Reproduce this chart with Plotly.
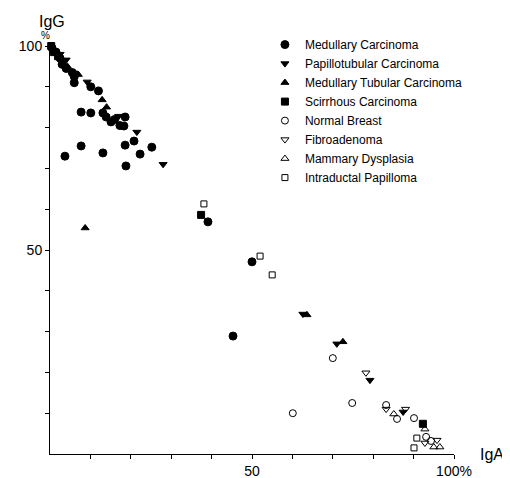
import plotly.graph_objects as go

# ---- data (IgA %, IgG %) ----
series_names = [
    "Medullary Carcinoma",
    "Papillotubular Carcinoma",
    "Medullary Tubular Carcinoma",
    "Scirrhous Carcinoma",
    "Normal Breast",
    "Fibroadenoma",
    "Mammary Dysplasia",
    "Intraductal Papilloma",
]

medullary_x = [0.5, 1.5, 2.5, 3.0, 4.0, 5.5, 6.0, 6.0, 10.1, 12.0, 13.1, 13.9, 15.1, 16.0, 17.3, 18.6, 18.3,
               7.7, 10.1, 3.7, 7.7, 13.1, 18.6, 20.8, 22.3, 25.2, 18.8, 39.1, 50.0, 45.3]
medullary_y = [99.5, 98.5, 97.0, 95.5, 94.5, 93.5, 92.5, 91.0, 90.0, 89.0, 83.6, 82.6, 81.4, 82.0, 80.5, 82.6, 80.4,
               83.8, 83.6, 73.0, 75.5, 73.8, 75.7, 76.7, 73.5, 75.2, 70.6, 56.9, 47.1, 28.9]

papillotubular_x = [2.5, 4.0, 9.2, 17.0, 21.5, 28.0, 62.6, 71.0, 79.2, 87.4]
papillotubular_y = [98.0, 96.6, 91.2, 82.8, 78.9, 71.0, 34.3, 27.0, 18.1, 10.3]

med_tubular_x = [1.0, 4.3, 7.0, 12.9, 14.0, 8.7, 63.6, 72.5]
med_tubular_y = [99.0, 95.0, 93.0, 86.8, 85.0, 55.4, 34.1, 27.5]

scirrhous_x = [0.3, 1.0, 2.0, 6.0, 37.4, 92.3]
scirrhous_y = [100.0, 98.5, 97.5, 93.0, 58.6, 7.4]

normal_x = [60.1, 70.0, 74.8, 83.2, 85.9, 90.1, 93.1, 94.3]
normal_y = [10.0, 23.5, 12.5, 12.0, 8.6, 8.8, 4.2, 3.2]

fibro_x = [78.2, 83.2, 88.0, 92.8, 95.8]
fibro_y = [19.9, 11.0, 11.0, 2.7, 3.4]

dysplasia_x = [85.1, 92.8, 95.0, 96.5]
dysplasia_y = [9.8, 6.1, 1.7, 1.7]

papilloma_x = [38.1, 52.0, 55.0, 90.8, 90.1]
papilloma_y = [61.3, 48.5, 43.9, 3.9, 1.5]

tick_vals = [10, 20, 30, 40, 50, 60, 70, 80, 90, 100]
x_tick_text = ["", "", "", "", "50", "", "", "", "", "100%"]
y_tick_text = ["", "", "", "", "50", "", "", "", "", "100"]

FONT = "Liberation Sans, Arial, sans-serif"

series = [
    (series_names[0], medullary_x, medullary_y, "circle", 8),
    (series_names[1], papillotubular_x, papillotubular_y, "triangle-down", 7),
    (series_names[2], med_tubular_x, med_tubular_y, "triangle-up", 7),
    (series_names[3], scirrhous_x, scirrhous_y, "square", 7),
    (series_names[4], normal_x, normal_y, "circle-open", 7),
    (series_names[5], fibro_x, fibro_y, "triangle-down-open", 7),
    (series_names[6], dysplasia_x, dysplasia_y, "triangle-up-open", 7),
    (series_names[7], papilloma_x, papilloma_y, "square-open", 6),
]

fig = go.Figure()
for name, xs, ys, sym, size in series:
    fig.add_trace(go.Scatter(
        x=xs, y=ys, mode="markers", name=name, cliponaxis=False,
        marker=dict(symbol=sym, size=size, color="black",
                    line=dict(color="black", width=1)),
    ))

axis_common = dict(
    range=[0, 100], showgrid=False, zeroline=False, showline=True,
    linecolor="black", linewidth=1, ticks="outside", ticklen=4,
    tickcolor="black", tickwidth=1, tickvals=tick_vals, automargin=False,
    tickfont=dict(family=FONT, size=14, color="black"),
)

# page has an 8px body margin, so the figure is 8px smaller on each side
fig.update_layout(
    width=502, height=470,
    margin=dict(l=42, r=56, t=38, b=24, autoexpand=False),
    paper_bgcolor="white", plot_bgcolor="white",
    font=dict(family=FONT, color="black"),
    xaxis=dict(**axis_common, ticktext=x_tick_text),
    yaxis=dict(**axis_common, ticktext=y_tick_text),
    legend=dict(
        x=0.532, y=1.039, xanchor="left", yanchor="top",
        font=dict(family=FONT, size=12, color="black"),
        bgcolor="rgba(0,0,0,0)", itemwidth=30, tracegroupgap=0,
    ),
    annotations=[
        dict(text="IgG", xref="paper", yref="paper", x=0.005, y=1.061,
             xanchor="center", yanchor="middle",
             showarrow=False, font=dict(family=FONT, size=16, color="black")),
        dict(text="%", xref="paper", yref="paper", x=-0.012, y=1.026,
             xanchor="center", yanchor="middle",
             showarrow=False, font=dict(family=FONT, size=10, color="black")),
        dict(text="IgA", xref="paper", yref="paper", x=1.094, y=0.0,
             xanchor="center", yanchor="middle",
             showarrow=False, font=dict(family=FONT, size=16, color="black")),
    ],
)

fig.write_html("out.html")
